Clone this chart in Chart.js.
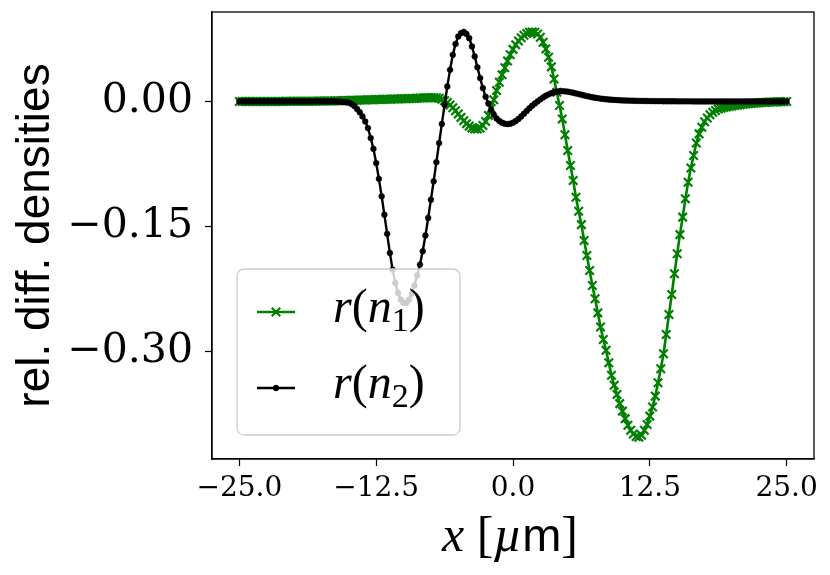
<!DOCTYPE html>
<html><head><meta charset="utf-8">
<script src="https://cdn.jsdelivr.net/npm/chart.js@4.4.1/dist/chart.umd.min.js"></script>
<style>html,body{margin:0;padding:0;background:#fff}#wrap{width:830px;height:575px;position:relative}</style>
</head><body><div id="wrap"><canvas id="c" width="830" height="575"></canvas></div>
<script>
const xValues = [
-25,-24.75,-24.5,-24.25, -24,-23.75,-23.5,-23.25, -23,-22.75,-22.5,-22.25, -22,-21.75,-21.5,-21.25,
-21,-20.75,-20.5,-20.25, -20,-19.75,-19.5,-19.25, -19,-18.75,-18.5,-18.25, -18,-17.75,-17.5,-17.25,
-17,-16.75,-16.5,-16.25, -16,-15.75,-15.5,-15.25, -15,-14.75,-14.5,-14.25, -14,-13.75,-13.5,-13.25,
-13,-12.75,-12.5,-12.25, -12,-11.75,-11.5,-11.25, -11,-10.75,-10.5,-10.25, -10,-9.75,-9.5,-9.25,
-9,-8.75,-8.5,-8.25, -8,-7.75,-7.5,-7.25, -7,-6.75,-6.5,-6.25, -6,-5.75,-5.5,-5.25,
-5,-4.75,-4.5,-4.25, -4,-3.75,-3.5,-3.25, -3,-2.75,-2.5,-2.25, -2,-1.75,-1.5,-1.25,
-1,-0.75,-0.5,-0.25, 0,0.25,0.5,0.75, 1,1.25,1.5,1.75, 2,2.25,2.5,2.75,
3,3.25,3.5,3.75, 4,4.25,4.5,4.75, 5,5.25,5.5,5.75, 6,6.25,6.5,6.75,
7,7.25,7.5,7.75, 8,8.25,8.5,8.75, 9,9.25,9.5,9.75, 10,10.25,10.5,10.75,
11,11.25,11.5,11.75, 12,12.25,12.5,12.75, 13,13.25,13.5,13.75, 14,14.25,14.5,14.75,
15,15.25,15.5,15.75, 16,16.25,16.5,16.75, 17,17.25,17.5,17.75, 18,18.25,18.5,18.75,
19,19.25,19.5,19.75, 20,20.25,20.5,20.75, 21,21.25,21.5,21.75, 22,22.25,22.5,22.75,
23,23.25,23.5,23.75, 24,24.25,24.5,24.75, 25
];
const rN1 = [
0,0,0,0, 0,0,0,0, 0,0,0,0, 0,0,0,0,
0,0.0001,0.0001,0.0001, 0.0001,0.0001,0.0002,0.0002, 0.0002,0.0002,0.0003,0.0003, 0.0003,0.0004,0.0004,0.0005,
0.0005,0.0006,0.0006,0.0007, 0.0008,0.0009,0.0010,0.0011, 0.0012,0.0013,0.0014,0.0015, 0.0016,0.0017,0.0018,0.0019,
0.0020,0.0021,0.0022,0.0023, 0.0024,0.0025,0.0026,0.0027, 0.0028,0.0029,0.0030,0.0031, 0.0032,0.0033,0.0034,0.0035,
0.0036,0.0038,0.0040,0.0042, 0.0043,0.0044,0.0045,0.0045, 0.0043,0.0037,0.0025,0.0008, -0.0014,-0.0042,-0.0075,-0.0112,
-0.0152,-0.0192,-0.0232,-0.0267, -0.0297,-0.0318,-0.0330,-0.0332, -0.0320,-0.0290,-0.0240,-0.0170, -0.0085,0.0020,0.0130,0.0230,
0.0320,0.0405,0.0485,0.0560, 0.0625,0.0680,0.0725,0.0765, 0.0795,0.0815,0.0830,0.0835, 0.0830,0.0810,0.0770,0.0710,
0.0630,0.0530,0.0415,0.0270, 0.0110,-0.0050,-0.0210,-0.0400, -0.0590,-0.0770,-0.0950,-0.1150, -0.1320,-0.1480,-0.1670,-0.1850,
-0.2030,-0.2210,-0.2370,-0.2540, -0.2710,-0.2860,-0.2990,-0.3140, -0.3290,-0.3410,-0.3520,-0.3630, -0.3720,-0.3810,-0.3890,-0.3950,
-0.3995,-0.4025,-0.4035,-0.4010, -0.3950,-0.3880,-0.3780,-0.3670, -0.3540,-0.3380,-0.3210,-0.3030, -0.2800,-0.2560,-0.2320,-0.2070,
-0.1830,-0.1600,-0.1390,-0.1170, -0.0970,-0.0800,-0.0650,-0.0500, -0.0390,-0.0310,-0.0245,-0.0200, -0.0160,-0.0130,-0.0108,-0.0092,
-0.0081,-0.0073,-0.0066,-0.0060, -0.0055,-0.0050,-0.0045,-0.0040, -0.0035,-0.0031,-0.0027,-0.0024, -0.0021,-0.0018,-0.0016,-0.0014,
-0.0012,-0.0010,-0.0008,-0.0007, -0.0006,-0.0005,-0.0004,-0.0003, -0.0002
];
const rN2 = [
0,0,0,0, 0,0,0,0, 0,0,0,0, 0,0,0,0,
0,0,0,0, 0,0,0,0, 0,0,0,0, 0,0,0,0,
0,0,0,0, -0.0001,-0.0003,-0.0006,-0.0010, -0.0015,-0.0030,-0.0055,-0.0090, -0.0130,-0.0180,-0.0240,-0.0320,
-0.0440,-0.0570,-0.0740,-0.0930, -0.1140,-0.1360,-0.1590,-0.1820, -0.2020,-0.2180,-0.2300,-0.2380, -0.2420,-0.2420,-0.2380,-0.2310,
-0.2210,-0.2090,-0.1960,-0.1800, -0.1610,-0.1400,-0.1180,-0.0960, -0.0730,-0.0500,-0.0270,-0.0040, 0.0180,0.0380,0.0560,0.0690,
0.0780,0.0820,0.0835,0.0810, 0.0760,0.0660,0.0540,0.0410, 0.0280,0.0160,0.0056,-0.0025, -0.0100,-0.0160,-0.0205,-0.0235,
-0.0255,-0.0268,-0.0272,-0.0268, -0.0255,-0.0235,-0.0210,-0.0180, -0.0148,-0.0115,-0.0082,-0.0052, -0.0025,0.0000,0.0025,0.0048,
0.0068,0.0085,0.0099,0.0110, 0.0118,0.0122,0.0123,0.0121, 0.0117,0.0111,0.0104,0.0096, 0.0088,0.0080,0.0072,0.0064,
0.0057,0.0050,0.0044,0.0039, 0.0034,0.0030,0.0026,0.0023, 0.0020,0.0018,0.0016,0.0014, 0.0012,0.0011,0.0010,0.0009,
0.0008,0.0007,0.0006,0.0006, 0.0005,0.0005,0.0004,0.0004, 0.0003,0.0003,0.0003,0.0002, 0.0002,0.0002,0.0002,0.0002,
0.0001,0.0001,0.0001,0.0001, 0.0001,0.0001,0,0, 0,0,0,0, 0,0,0,0,
0,0,0,0, 0,0,0,0, 0,0,0,0, 0,0,0,0,
0,0,0,0, 0,0,0,0, 0
];
const seriesLabels = ['r(n\u2081)', 'r(n\u2082)'];
const xTickValues = [-25, -12.5, 0, 12.5, 25];
const yTickValues = [-0.30, -0.15, 0.00];
const xAxisTitle = 'x [\u00b5m]';
const yAxisTitle = 'rel. diff. densities';

const GREEN = '#008000';
const SERIF = 'DejaVu Serif';
const LSERIF = 'Liberation Serif';
const SANS = 'Liberation Sans';

function fmt(v, d) { return (v < 0 ? '\u2212' : '') + Math.abs(v).toFixed(d); }

function styleOf(ch) {
  if (/[a-z\u00b5]/.test(ch)) return {font: 'italic 48px "' + LSERIF + '"', dy: 0};
  if (/[\u2080-\u2089]/.test(ch)) return {font: '34px "' + LSERIF + '"', dy: 9, map: String.fromCharCode(ch.charCodeAt(0) - 0x2080 + 48)};
  return {font: '48px "' + LSERIF + '"', dy: 0};
}
function drawRich(ctx, text, x, y, styler) {
  let cx = x;
  for (const ch of text) {
    const s = styler(ch);
    ctx.font = s.font;
    const t = s.map || ch;
    ctx.fillText(t, cx, y + (s.dy || 0));
    cx += ctx.measureText(t).width;
  }
  return cx - x;
}
function measureRich(ctx, text, styler) {
  let w = 0;
  for (const ch of text) { const s = styler(ch); ctx.font = s.font; w += ctx.measureText(s.map || ch).width; }
  return w;
}
function xTitleStyle(ch) {
  if (ch === 'x' || ch === '\u00b5') return {font: 'italic 50px "' + LSERIF + '"'};
  if (ch === 'm') return {font: '47px "' + SANS + '"'};
  return {font: '50px "' + LSERIF + '"'};
}

const framePlugin = {
  id: 'frameLegend',
  afterDatasetsDraw(chart) {
    const ctx = chart.ctx, a = chart.chartArea;
    ctx.save();
    ctx.strokeStyle = '#000'; ctx.lineWidth = 1.3;
    ctx.strokeRect(a.left, a.top, a.right - a.left, a.bottom - a.top);
    const bx = 237, by = 269, bw = 223, bh = 166, r = 8;
    ctx.beginPath();
    ctx.moveTo(bx + r, by); ctx.lineTo(bx + bw - r, by); ctx.quadraticCurveTo(bx + bw, by, bx + bw, by + r);
    ctx.lineTo(bx + bw, by + bh - r); ctx.quadraticCurveTo(bx + bw, by + bh, bx + bw - r, by + bh);
    ctx.lineTo(bx + r, by + bh); ctx.quadraticCurveTo(bx, by + bh, bx, by + bh - r);
    ctx.lineTo(bx, by + r); ctx.quadraticCurveTo(bx, by, bx + r, by);
    ctx.closePath();
    ctx.fillStyle = 'rgba(255,255,255,0.8)'; ctx.fill();
    ctx.strokeStyle = '#cccccc'; ctx.lineWidth = 1.3; ctx.stroke();
    const rows = [312, 388];
    chart.data.datasets.forEach((ds, i) => {
      const yy = rows[i];
      ctx.strokeStyle = ds.borderColor; ctx.lineWidth = ds.borderWidth;
      ctx.beginPath(); ctx.moveTo(257, yy); ctx.lineTo(295, yy); ctx.stroke();
      ctx.strokeStyle = ds.pointBorderColor; ctx.fillStyle = ds.pointBackgroundColor;
      ctx.lineWidth = ds.pointBorderWidth;
      Chart.helpers.drawPoint(ctx, {pointStyle: ds.pointStyle, radius: ds.pointRadius, borderWidth: ds.pointBorderWidth, rotation: 0}, 276, yy);
      ctx.fillStyle = '#000'; ctx.textBaseline = 'alphabetic'; ctx.textAlign = 'left';
      drawRich(ctx, ds.label, 333, yy + 10, styleOf);
    });
    ctx.fillStyle = '#000'; ctx.textBaseline = 'alphabetic'; ctx.textAlign = 'left';
    const w = measureRich(ctx, xAxisTitle, xTitleStyle);
    drawRich(ctx, xAxisTitle, (a.left + a.right) / 2 - 3 - w / 2, 551, xTitleStyle);
    ctx.restore();
  }
};

new Chart(document.getElementById('c'), {
  type: 'line',
  data: {
    datasets: [
      { label: seriesLabels[0], data: xValues.map((x, i) => ({x, y: rN1[i]})),
        borderColor: GREEN, borderWidth: 2.6, pointStyle: 'crossRot', pointRadius: 6,
        pointBorderColor: GREEN, pointBackgroundColor: GREEN, pointBorderWidth: 2.2, order: 1, tension: 0 },
      { label: seriesLabels[1], data: xValues.map((x, i) => ({x, y: rN2[i]})),
        borderColor: '#000', borderWidth: 2.4, pointStyle: 'circle', pointRadius: 2.9,
        pointBorderColor: '#000', pointBackgroundColor: '#000', pointBorderWidth: 0.5, order: 0, tension: 0 }
    ]
  },
  options: {
    responsive: false, animation: false, devicePixelRatio: 1,
    layout: { autoPadding: false, padding: { top: 12, right: 16, left: 0, bottom: 0 } },
    plugins: { legend: { display: false }, tooltip: { enabled: false } },
    scales: {
      x: {
        type: 'linear', min: -27.5, max: 27.5,
        afterBuildTicks: s => { s.ticks = xTickValues.map(v => ({value: v})); },
        afterFit: s => { s.height = 116; s.paddingLeft = 0; s.paddingRight = 0; s.paddingTop = 0; s.paddingBottom = 0; },
        ticks: { callback: v => fmt(v, 1), font: { family: SERIF, size: 28 }, color: '#000', padding: 6, maxRotation: 0, autoSkip: false },
        grid: { drawOnChartArea: false, drawTicks: true, tickLength: 7, color: '#000', tickWidth: 1.2 },
        border: { display: true, color: '#000', width: 1.3 },
        title: { display: false, text: xAxisTitle }
      },
      y: {
        type: 'linear', min: -0.4295, max: 0.1074,
        afterBuildTicks: s => { s.ticks = yTickValues.map(v => ({value: v})); },
        afterFit: s => { s.width = 212; s.paddingLeft = 0; s.paddingRight = 0; s.paddingTop = 0; s.paddingBottom = 0; },
        ticks: { callback: v => fmt(v, 2), font: { family: SERIF, size: 41 }, color: '#000', padding: 12, autoSkip: false },
        grid: { drawOnChartArea: false, drawTicks: true, tickLength: 7, color: '#000', tickWidth: 1.2 },
        border: { display: true, color: '#000', width: 1.3 },
        title: { display: true, text: yAxisTitle, color: '#000', font: { family: SANS, size: 46 }, padding: { top: 9, bottom: 0 } }
      }
    }
  },
  plugins: [framePlugin]
});
</script>
</body></html>
